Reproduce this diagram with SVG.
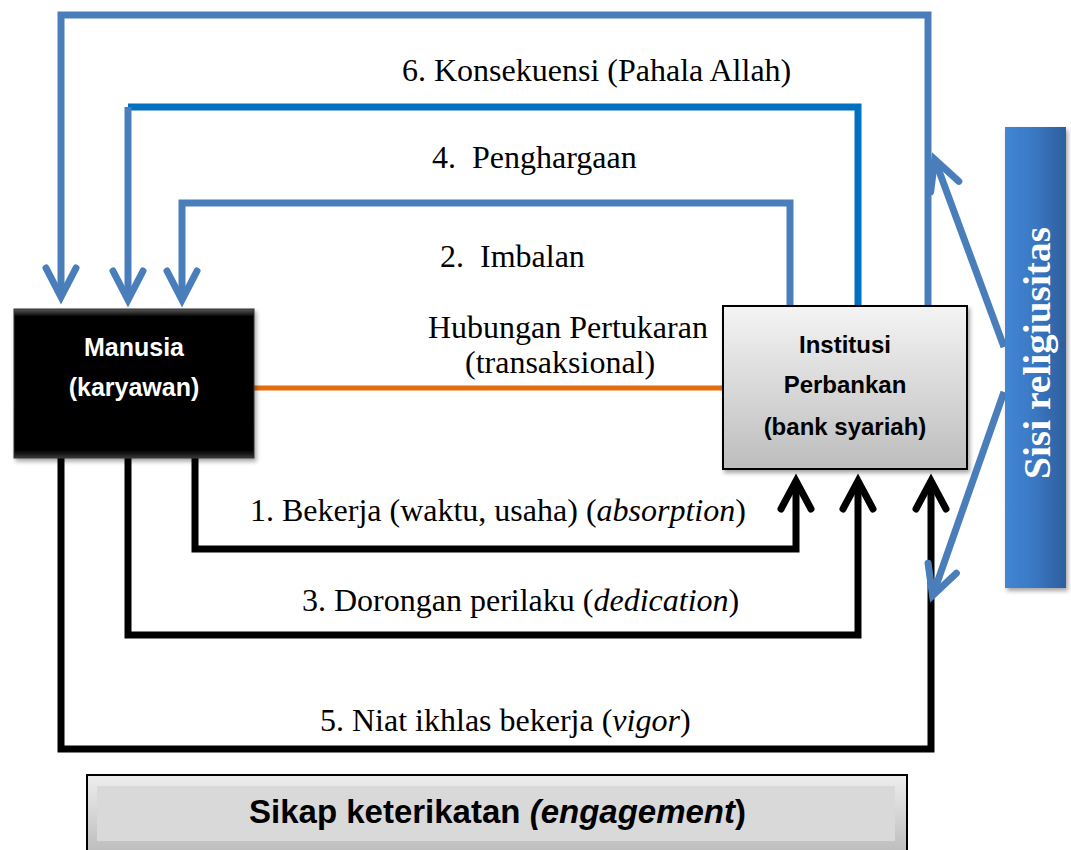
<svg xmlns="http://www.w3.org/2000/svg" width="1071" height="850" viewBox="0 0 1071 850">
  <style>
    .lbl { font-family: "Liberation Serif", "Times New Roman", serif; font-size: 32px; fill: #000; }
    .box-w { font-family: "Liberation Sans", Arial, sans-serif; font-weight: bold; font-size: 25px; fill: #fff; text-anchor: middle; }
    .box-k { font-family: "Liberation Sans", Arial, sans-serif; font-weight: bold; font-size: 24px; fill: #000; text-anchor: middle; }
    .c-blue { fill: none; stroke: #4A7EBB; stroke-width: 7; stroke-linejoin: miter; }
    .c-dark { fill: none; stroke: #0070C0; stroke-width: 7; stroke-linejoin: miter; }
    .c-black { fill: none; stroke: #000; stroke-width: 7; stroke-linejoin: miter; }
    .c-orange { fill: none; stroke: #E46C0A; stroke-width: 5; }
  </style>
  <defs>
    <marker id="arrBlue" viewBox="-40 -20 50 40" refX="0" refY="0" markerWidth="50" markerHeight="40" markerUnits="userSpaceOnUse" orient="auto" overflow="visible">
      <path d="M -29 -15 L 0 0 L -29 15" fill="none" stroke="#4A7EBB" stroke-width="7" stroke-linecap="round" stroke-linejoin="miter"/>
    </marker>
    <marker id="arrBlack" viewBox="-40 -20 50 40" refX="0" refY="0" markerWidth="50" markerHeight="40" markerUnits="userSpaceOnUse" orient="auto" overflow="visible">
      <path d="M -28 -15 L 0 0 L -28 15" fill="none" stroke="#000" stroke-width="7" stroke-linecap="round" stroke-linejoin="miter"/>
    </marker>
    <linearGradient id="gBlack" x1="0" y1="0" x2="0" y2="1">
      <stop offset="0" stop-color="#5a5a5a"/>
      <stop offset="0.05" stop-color="#050505"/>
      <stop offset="0.95" stop-color="#000"/>
      <stop offset="1" stop-color="#3a3a3a"/>
    </linearGradient>
    <linearGradient id="gGray" x1="0" y1="0" x2="0" y2="1">
      <stop offset="0" stop-color="#f4f4f4"/>
      <stop offset="1" stop-color="#bdbdbd"/>
    </linearGradient>
    <linearGradient id="gBar" x1="0" y1="0" x2="1" y2="0">
      <stop offset="0" stop-color="#4286D4"/>
      <stop offset="0.5" stop-color="#3A77C2"/>
      <stop offset="1" stop-color="#2D5E9C"/>
    </linearGradient>
    <linearGradient id="gFrame" x1="0" y1="0" x2="0" y2="1">
      <stop offset="0" stop-color="#eeeeee"/>
      <stop offset="1" stop-color="#b8b8b8"/>
    </linearGradient>
    <filter id="shadow" x="-10%" y="-10%" width="130%" height="130%">
      <feDropShadow dx="2" dy="3" stdDeviation="2" flood-color="#000" flood-opacity="0.35"/>
    </filter>
  </defs>

  <!-- connectors -->
  <g id="connectors">
    <!-- 6. Konsekuensi -->
    <path class="c-blue" d="M 928 306 V 15 H 61 V 297" marker-end="url(#arrBlue)"/>
    <!-- 4. Penghargaan -->
    <path class="c-dark" d="M 858 306 V 107 H 128"/>
    <path class="c-blue" d="M 128 107 V 300" marker-end="url(#arrBlue)"/>
    <!-- 2. Imbalan -->
    <path class="c-blue" d="M 790 306 V 203 H 182 V 300" marker-end="url(#arrBlue)"/>
    <!-- exchange relation -->
    <path class="c-orange" d="M 254 388 H 723"/>
    <!-- 1. Bekerja -->
    <path class="c-black" d="M 195 458 V 549 H 796 V 481" marker-end="url(#arrBlack)"/>
    <!-- 3. Dorongan perilaku -->
    <path class="c-black" d="M 128 458 V 635 H 858 V 481" marker-end="url(#arrBlack)"/>
    <!-- 5. Niat ikhlas bekerja -->
    <path class="c-black" d="M 61 458 V 749 H 931 V 481" marker-end="url(#arrBlack)"/>
    <!-- religiosity links -->
    <path class="c-blue" d="M 1004 347 L 934.7 159.3" marker-end="url(#arrBlue)"/>
    <path class="c-blue" d="M 1004 392 L 932.6 595.6" marker-end="url(#arrBlue)"/>
  </g>

  <!-- connector labels -->
  <g id="labels">
    <text class="lbl" x="402" y="81">6. Konsekuensi (Pahala Allah)</text>
    <text class="lbl" x="432" y="168">4.&#160; Penghargaan</text>
    <text class="lbl" x="440" y="267">2.&#160; Imbalan</text>
    <text class="lbl" x="428" y="338">Hubungan Pertukaran</text>
    <text class="lbl" x="465" y="373">(transaksional)</text>
    <text class="lbl" x="250" y="521">1. Bekerja (waktu, usaha) (<tspan font-style="italic">absorption</tspan>)</text>
    <text class="lbl" x="302" y="611">3. Dorongan perilaku (<tspan font-style="italic">dedication</tspan>)</text>
    <text class="lbl" x="320" y="731">5. Niat ikhlas bekerja (<tspan font-style="italic">vigor</tspan>)</text>
  </g>

  <!-- employee node -->
  <g id="node-manusia">
    <rect x="14" y="309" width="240" height="149" fill="url(#gBlack)" stroke="#333" stroke-width="1" filter="url(#shadow)"/>
    <text class="box-w" x="134" y="356">Manusia</text>
    <text class="box-w" x="134" y="396">(karyawan)</text>
  </g>

  <!-- bank node -->
  <g id="node-institusi">
    <rect x="723" y="306" width="244" height="163" fill="url(#gGray)" stroke="#000" stroke-width="2" filter="url(#shadow)"/>
    <text class="box-k" x="845" y="353">Institusi</text>
    <text class="box-k" x="845" y="393">Perbankan</text>
    <text class="box-k" x="845" y="435">(bank syariah)</text>
  </g>

  <!-- religiosity bar -->
  <g id="node-religiusitas">
    <rect x="1005" y="127" width="61" height="461" fill="url(#gBar)" filter="url(#shadow)"/>
    <text x="1050" y="353" transform="rotate(-90 1050 353)" text-anchor="middle" font-family="Liberation Serif, Times New Roman, serif" font-weight="bold" font-size="37" textLength="252" lengthAdjust="spacingAndGlyphs" fill="#fff">Sisi religiusitas</text>
  </g>

  <!-- engagement banner -->
  <g id="node-engagement">
    <rect x="87" y="775" width="820" height="85" fill="url(#gFrame)" stroke="#000" stroke-width="2"/>
    <rect x="97" y="786" width="798" height="55" fill="#d9d9d9"/>
    <text x="249" y="823" font-family="Liberation Sans, Arial, sans-serif" font-weight="bold" font-size="33" fill="#000">Sikap keterikatan <tspan font-style="italic">(engagement</tspan>)</text>
  </g>
</svg>
